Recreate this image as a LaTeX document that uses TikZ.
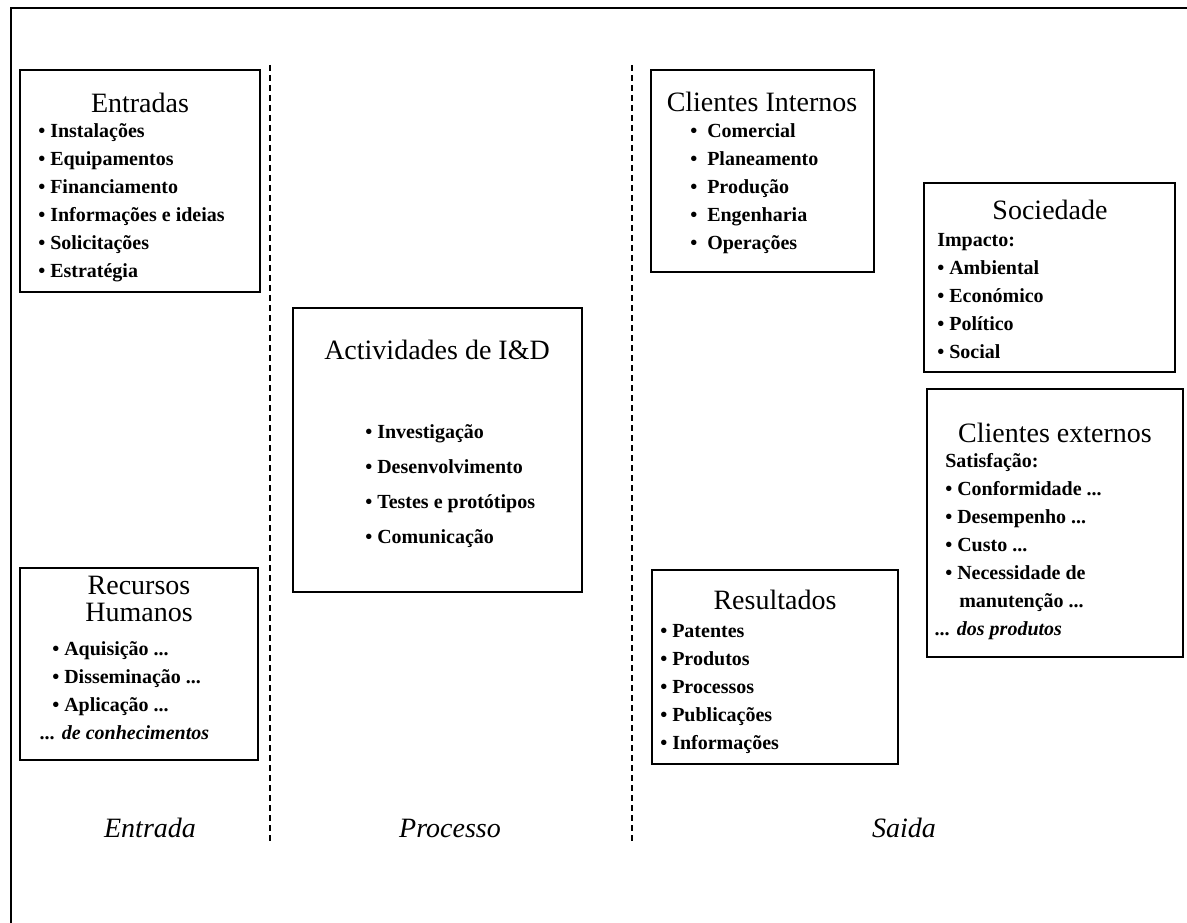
\documentclass[tikz,border=0pt]{standalone}
\usepackage{fontspec}
\setmainfont{Liberation Serif}
\usetikzlibrary{positioning, fit}

\begin{document}
\begin{tikzpicture}[x=0.75pt, y=-0.75pt,
      box/.style={draw=black, line width=1.5pt, inner sep=0pt},
      ttl/.style={font=\fontsize{21}{20}\selectfont, align=center, inner sep=0pt},
      lst/.style={font=\fontsize{15}{21}\selectfont\bfseries, align=left,
                  inner sep=0pt, anchor=west},
      zone/.style={font=\fontsize{21}{24}\selectfont\itshape, inner sep=0pt},
      sep/.style={line width=1.3pt, dash pattern=on 4.5pt off 3pt},
      frame/.style={line width=1.8pt}]
    \useasboundingbox (0,0) rectangle (1187,923);
    % outer frame, only top and left sides
    \draw[frame] (10,8) -- (1187,8);
    \draw[frame] (11,8) -- (11,923);
    % zone separators
    \coordinate (s1t) at (270,65);  \coordinate (s1b) at (270,842);
    \coordinate (s2t) at (632,65);  \coordinate (s2b) at (632,842);
    \draw[sep] (s1t) -- (s1b);
    \draw[sep] (s2t) -- (s2b);
    % Entrada
    \node[box, fit={(20,70) (260,292)}] (entr) {};
    \node[ttl] (entrT) at (140,103) {Entradas};
    \node[lst] (entrL) at (38,203) {• Instalações\\• Equipamentos\\• Financiamento\\
      • Informações e ideias\\• Solicitações\\• Estratégia};
    \node[box, fit={(20,568) (258,760)}] (rh) {};
    \node[ttl] (rhT) at (139,599) {Recursos\\Humanos};
    \node[lst] (rhL) at (40,691) {\hspace*{9pt}• Aquisição ...\\\hspace*{9pt}• Disseminação ...\\
      \hspace*{9pt}• Aplicação ...\\\textit{... de conhecimentos}};
    % Processo
    \node[box, fit={(293,308) (582,592)}] (act) {};
    \node[ttl] (actT) at (437,350) {Actividades de I\&D};
    \node[lst, font=\fontsize{15}{26.3}\selectfont\bfseries] (actL) at (365,486)
      {• Investigação\\• Desenvolvimento\\• Testes e protótipos\\• Comunicação};
    % Saida
    \node[box, fit={(651,70) (874,272)}] (cint) {};
    \node[ttl] (cintT) at (762,102) {Clientes Internos};
    \node[lst] (cintL) at (690,189) {•\enspace Comercial\\•\enspace Planeamento\\•\enspace Produção\\
      •\enspace Engenharia\\•\enspace Operações};
    \node[box, fit={(652,570) (898,764)}] (res) {};
    \node[ttl] (resT) at (775,600) {Resultados};
    \node[lst] (resL) at (660,689) {• Patentes\\• Produtos\\• Processos\\• Publicações\\• Informações};
    \node[box, fit={(924,183) (1175,372)}] (soc) {};
    \node[ttl] (socT) at (1050,210) {Sociedade};
    \node[lst] (socL) at (937,296) {Impacto:\\• Ambiental\\• Económico\\• Político\\• Social};
    \node[box, fit={(927,389) (1183,657)}] (cext) {};
    \node[ttl] (cextT) at (1055,433) {Clientes externos};
    \node[lst] (cextL) at (935,547) {\hspace*{7.5pt}Satisfação:\\\hspace*{7.5pt}• Conformidade ...\\
      \hspace*{7.5pt}• Desempenho ...\\\hspace*{7.5pt}• Custo ...\\\hspace*{7.5pt}• Necessidade de\\
      \hspace*{18pt}manutenção ...\\\textit{... dos produtos}};
    % zone labels
    \node[zone] (lblE) at (150,828) {Entrada};
    \node[zone] (lblP) at (450,828) {Processo};
    \node[zone] (lblS) at (904,828) {Saida};
\end{tikzpicture}
\end{document}
